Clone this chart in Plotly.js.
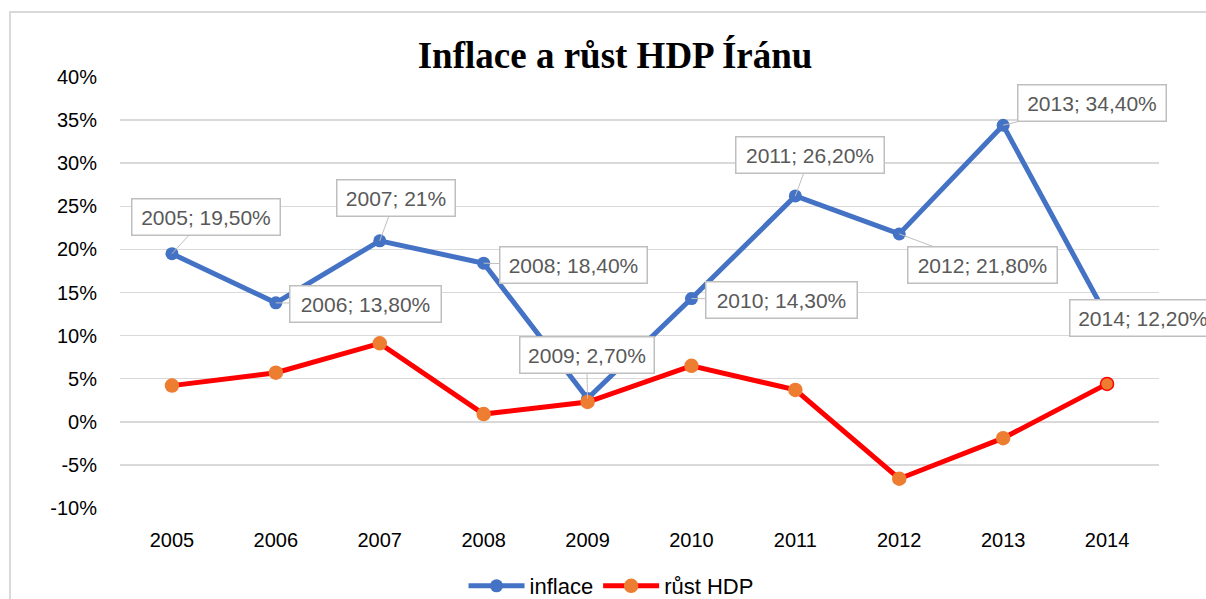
<!DOCTYPE html>
<html>
<head>
<meta charset="utf-8">
<script src="https://cdn.plot.ly/plotly-3.0.1.min.js"></script>
<style>html,body{margin:0;padding:0;background:#fff;}#chart{width:1206px;height:599px;}</style>
</head>
<body>
<div id="chart"></div>
<script>
const years = ['2005','2006','2007','2008','2009','2010','2011','2012','2013','2014'];
const inflace = [19.5, 13.8, 21, 18.4, 2.7, 14.3, 26.2, 21.8, 34.4, 12.2];
const rustHDP = [4.2, 5.7, 9.1, 0.9, 2.3, 6.5, 3.7, -6.6, -1.9, 4.4];
const yTicks = [-10, -5, 0, 5, 10, 15, 20, 25, 30, 35, 40];

// label placement (pixel offsets of callout boxes from their points, and box widths)
const labelAx = [34, 90, 16, 90, -1, 90, 15, 83, 89, 36];
const labelAy = [-37, 1, -43, 2, -44, 1, -41, 31, -22, 1];
const labelW  = [147, 150, 117, 146, 133, 150, 147, 148, 147, 145];

function fmt(v) {
  if (Number.isInteger(v)) return v + '%';
  return v.toFixed(2).replace('.', ',') + '%';
}

const traces = [
  {
    x: years, y: inflace, name: 'inflace', type: 'scatter', mode: 'lines+markers',
    line: {color: '#4472C4', width: 5},
    marker: {color: '#4472C4', size: 13},
    hoverinfo: 'skip'
  },
  {
    x: years, y: rustHDP, name: 'růst HDP', type: 'scatter', mode: 'lines+markers',
    line: {color: '#FF0000', width: 5},
    marker: {color: '#ED7D31', size: 13,
      line: {color: years.map((y, i) => i === years.length - 1 ? '#FF0000' : '#ED7D31'), width: 1.5}},
    hoverinfo: 'skip'
  }
];

// category axis: annotations positioned by category index
const annotations = years.map((yr, i) => ({
  x: i, y: inflace[i], xref: 'x', yref: 'y',
  text: yr + '; ' + fmt(inflace[i]),
  showarrow: true, ax: labelAx[i], ay: labelAy[i],
  arrowhead: 0, arrowwidth: 1, arrowcolor: '#bfbfbf', standoff: 0,
  bgcolor: '#ffffff', bordercolor: '#bfbfbf', borderwidth: 1.5, borderpad: 0,
  width: labelW[i], height: 35,
  font: {family: 'Liberation Sans, Arial, sans-serif', size: 21, color: '#595959'}
}));

const layout = {
  width: 1206, height: 599,
  paper_bgcolor: '#ffffff', plot_bgcolor: '#ffffff',
  margin: {l: 120, r: 47, t: 77, b: 0, autoexpand: false},
  title: {
    text: '<b>Inflace a růst HDP Íránu</b>',
    font: {family: 'Liberation Serif, Times New Roman, serif', size: 37, color: '#000000'},
    xref: 'container', yref: 'container', x: 0.51, y: 0.908, xanchor: 'center', yanchor: 'middle'
  },
  xaxis: {
    type: 'category', range: [-0.5, 9.5], showgrid: false, zeroline: false, showline: false,
    ticks: '', ticklabelstandoff: 18,
    tickfont: {family: 'Liberation Sans, Arial, sans-serif', size: 20, color: '#000000'}
  },
  yaxis: {
    domain: [0.1743, 1],
    range: [-10, 40], tickvals: yTicks, ticktext: yTicks.map(v => v + '%'),
    showgrid: true, gridcolor: '#d9d9d9', gridwidth: 1.5,
    zeroline: true, zerolinecolor: '#d9d9d9', zerolinewidth: 1.5, showline: false,
    ticks: '', ticklabelstandoff: 22,
    tickfont: {family: 'Liberation Sans, Arial, sans-serif', size: 20, color: '#000000'}
  },
  showlegend: true,
  legend: {
    orientation: 'h', x: 0.4726, xanchor: 'center', y: 0.0249, yanchor: 'middle',
    itemwidth: 56, traceorder: 'normal',
    font: {family: 'Liberation Sans, Arial, sans-serif', size: 22, color: '#000000'}
  },
  annotations: annotations,
  shapes: [{
    type: 'rect', xref: 'paper', yref: 'paper',
    x0: -0.1059, x1: 1.06, y0: -0.1, y1: 1.1245,
    line: {color: '#d9d9d9', width: 2}, fillcolor: 'rgba(0,0,0,0)', layer: 'below'
  }]
};

Plotly.newPlot('chart', traces, layout, {displayModeBar: false, staticPlot: true});
</script>
</body>
</html>
